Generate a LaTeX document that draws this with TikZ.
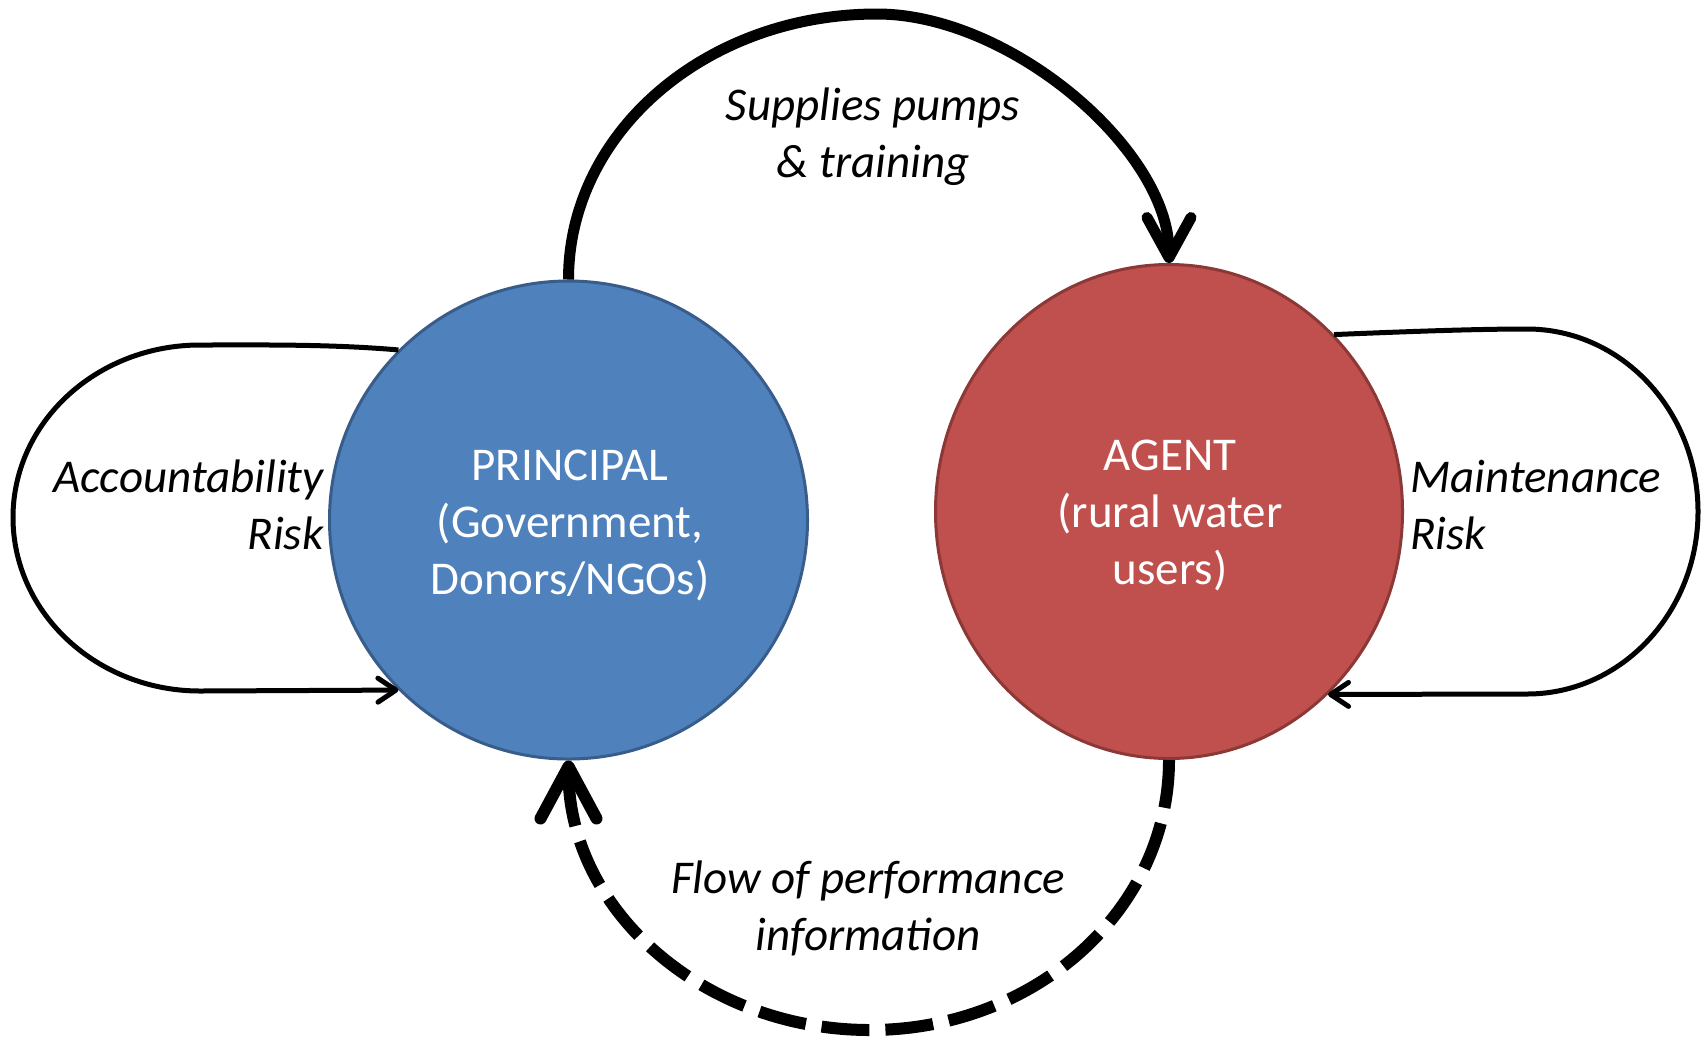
\documentclass[tikz,border=0pt]{standalone}
\usepackage{fontspec}
\setmainfont{Carlito}
\usetikzlibrary{arrows.meta,shapes.geometric}
\definecolor{pfill}{HTML}{4F81BD}
\definecolor{pline}{HTML}{385D8A}
\definecolor{afill}{HTML}{C0504D}
\definecolor{aline}{HTML}{8C3836}
\begin{document}
\begin{tikzpicture}[x=0.5pt,y=-0.5pt,
  lbl/.style={font=\fontsize{23.5pt}{28.5pt}\selectfont\itshape, inner sep=0pt},
  ctext/.style={font=\fontsize{23.5pt}{28.5pt}\selectfont, text=white, align=center, inner sep=0pt, anchor=base},
  bubble/.style={inner sep=0pt, line width=1.5pt},
  bigflow/.style={line width=5.5pt, -{Straight Barb[length=20pt,width=22pt,round]}},
  infoflow/.style={line width=6pt, dash pattern=on 24pt off 8pt, -{Straight Barb[length=26pt,width=28pt,round]}},
  loopline/.style={line width=2.5pt, -{Straight Barb[length=9pt,width=12pt,round]}}
]
\useasboundingbox (0,0) rectangle (1706,1040);
\fill[white] (0,0) rectangle (1706,1040);

\node[bubble, circle, draw=pline, fill=pfill, minimum size=239pt] (P) at (568.5,520) {};
\node[bubble, ellipse, draw=aline, fill=afill, minimum width=233.5pt, minimum height=247pt] (A) at (1169,511.5) {};

% base anchor of a multi-line node = baseline of its last line
\node[ctext] (ptxt) at (570,594) {PRINCIPAL\\(Government,\\Donors/NGOs)};
\node[ctext] (atxt) at (1170,584) {AGENT\\(rural water\\users)};

\node[lbl, align=center, anchor=base] (sup) at (873,177) {Supplies pumps\\\& training};
\node[lbl, align=center, anchor=base] (flow) at (868,950) {Flow of performance\\information};
\node[lbl, align=right, anchor=base east] (acc) at (324,549) {Accountability\\Risk};
\node[lbl, align=left, anchor=base west] (mnt) at (1410,549) {Maintenance\\Risk};

% supplies arc
\draw[bigflow] (P.north) .. controls (568.5,132) and (706.6,14) .. (877,14)
  .. controls (1010,14) and (1169,150) .. (A.north);

% performance information (dashed)
\draw[infoflow] (A.south) .. controls (1169,910) and (1035,1030) .. (870,1030)
  .. controls (703.5,1030) and (568.5,910) .. (P.south);

% accountability loop
\draw[loopline] (P.135) .. controls (330,344) and (260,345) .. (200,345)
  .. controls (96.7,345) and (13,422.2) .. (13,517.5)
  .. controls (13,612.8) and (96.7,691) .. (200,691) -- (P.225);

% maintenance loop
\draw[loopline] (A.47) .. controls (1420,331) and (1480,329) .. (1527,329)
  .. controls (1621.4,329) and (1698,410.7) .. (1698,511.5)
  .. controls (1698,612.3) and (1621.4,694) .. (1527,694) -- (A.-49);
\end{tikzpicture}
\end{document}
